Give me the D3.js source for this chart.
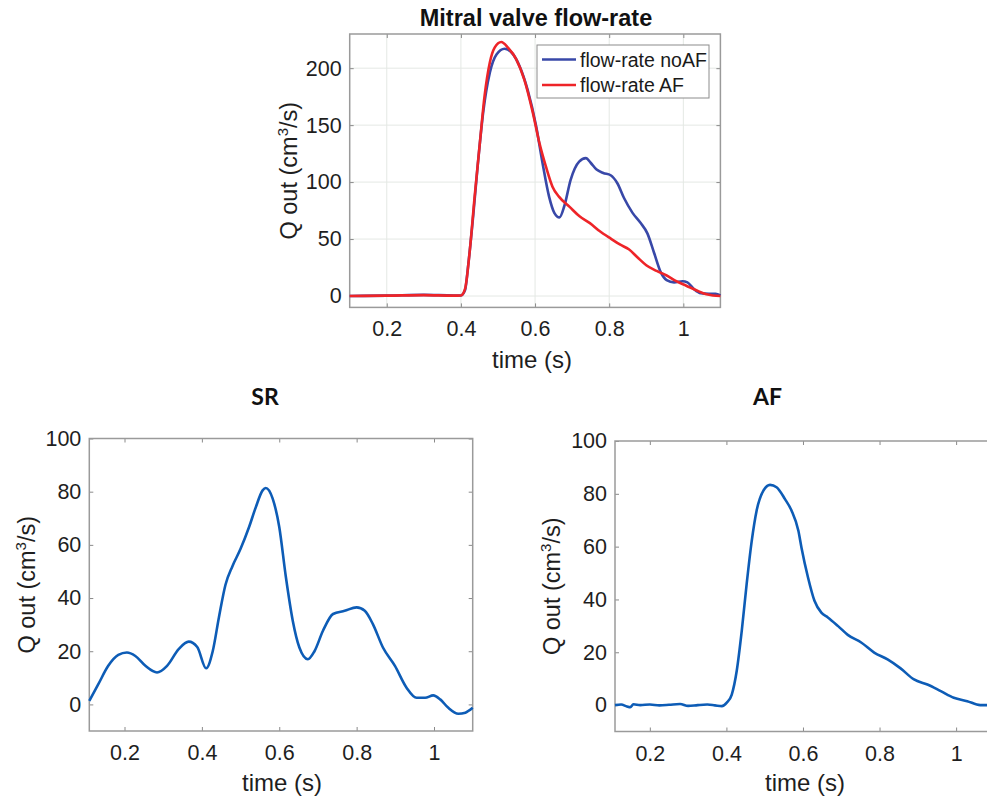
<!DOCTYPE html>
<html lang="en">
	<head>
		<meta charset="utf-8">
		<title>mitral valve flow-rate</title>
		<script type="text/javascript" src="https://d3js.org/d3.v7.min.js"></script>
		<style type="text/css">
            body{margin:0;background:#fff;font-family:"Liberation Sans",Arial,Helvetica,sans-serif;}
            svg{display:block;}
		</style>
	</head>
	<body>
    <div id="chart1"></div>
		<script type="text/javascript">
            //values

            //top plot, two series
            var topTimeNoAF = [0.1,0.2,0.3,0.38,0.4,0.411,0.42,0.433,0.446,0.46,0.478,0.496,0.518,0.536,0.558,0.58,0.603,0.62,0.638,0.652,0.666,0.679,0.696,0.719,0.737,0.75,0.766,0.784,0.804,0.822,0.84,0.863,0.885,0.903,0.921,0.939,0.955,0.975,0.998,1.011,1.029,1.047,1.069,1.087,1.1]
            var flowNoAF = [0,0.3,1,0.5,0.5,5,28,70,117,161,196,212,217,214,202,181,149,117,87,73,69,79,102,118,121,117,111,108,106,99,86,73,64,55,38,21,14,12,13,12,6,2.5,2,2,0.5]
            var topTimeAF = [0.1,0.2,0.3,0.38,0.4,0.411,0.424,0.437,0.451,0.464,0.478,0.491,0.509,0.527,0.549,0.571,0.594,0.612,0.629,0.647,0.665,0.694,0.72,0.748,0.774,0.806,0.83,0.853,0.876,0.9,0.928,0.955,0.981,1.008,1.035,1.062,1.08,1.1]
            var flowAF = [0,0.3,0.8,0.3,0.5,6,40,87,134,176,205,218,223,218,208,190,161,134,114,96,87,78,70,64,57,50,45,41,34,27,22,18,13,9,5,1.5,0.5,0]

            //bottom left (SR)
            var srTime = [0.109,0.132,0.158,0.184,0.206,0.228,0.254,0.284,0.31,0.34,0.366,0.388,0.411,0.428,0.444,0.461,0.479,0.5,0.522,0.539,0.557,0.565,0.583,0.6,0.617,0.635,0.652,0.674,0.691,0.713,0.739,0.769,0.8,0.821,0.842,0.868,0.899,0.929,0.955,0.977,0.998,1.016,1.037,1.063,1.081,1.1]
            var srFlow = [1.3,7.5,14.5,18.6,19.5,18.2,14.5,12,14.5,20.8,23.6,21.6,13.6,20,32.7,45,52,58.5,66.7,74,80.5,81.4,77.4,66.7,48,31.4,21.4,17,20,27.7,34,35.2,36.5,35.2,30.2,21.4,14.5,6.3,2.5,2.5,3.4,1.9,-1.3,-3.5,-3.1,-1.3]

            //bottom right (AF)
            var afTime = [0.109,0.125,0.14,0.149,0.157,0.175,0.2,0.225,0.25,0.279,0.3,0.325,0.35,0.37,0.388,0.401,0.414,0.427,0.44,0.453,0.466,0.479,0.497,0.514,0.531,0.553,0.57,0.588,0.596,0.613,0.63,0.648,0.665,0.691,0.717,0.752,0.786,0.821,0.855,0.89,0.925,0.96,0.994,1.029,1.063,1.1]
            var afFlow = [0,0.2,-0.5,-0.8,0.3,0,0.2,-0.1,0.1,0.4,-0.3,0,0.2,-0.1,-0.4,0.9,4,13,28,46,62,73.7,81.3,83.4,82.5,78,73.7,66,59.7,48.4,39.5,35,33.2,30,26.6,23.7,19.9,17.3,13.9,9.7,7.8,5.3,2.8,1.5,0,0]

            //tick labels
            var timeTicks = [0.2,0.4,0.6,0.8,1]
            var topFlowTicks = [0,50,100,150,200]
            var bottomFlowTicks = [0,20,40,60,80,100]

            var legendNames = ["flow-rate noAF","flow-rate AF"]

            var w = 987
            var h = 797
            var svg = d3.select("#chart1")
                        .append("svg")
                        .attr("width",w)
                        .attr("height",h)

            //turn two arrays into points
            function zip(xs,ys){
                return xs.map(function(x,i){ return {t:x, q:ys[i]} })
            }

            //draws one framed panel and returns its scales
            function drawPanel(p){
                var xScale = d3.scaleLinear().domain(p.xDomain).range([p.left,p.right])
                var yScale = d3.scaleLinear().domain(p.yDomain).range([p.bottom,p.top])
                var g = svg.append("g")
                var fmt = d3.format("~g")

                //grid
                if(p.grid){
                    g.selectAll(".vgrid").data(timeTicks).enter().append("line")
                        .attr("x1",function(d){ return xScale(d) }).attr("x2",function(d){ return xScale(d) })
                        .attr("y1",p.top).attr("y2",p.bottom)
                        .attr("stroke","#e4e8e4").attr("stroke-width",1)
                    g.selectAll(".hgrid").data(p.yTicks).enter().append("line")
                        .attr("y1",function(d){ return yScale(d) }).attr("y2",function(d){ return yScale(d) })
                        .attr("x1",p.left).attr("x2",p.right)
                        .attr("stroke","#e4e8e4").attr("stroke-width",1)
                }

                //axes with inward ticks on all four sides
                g.append("g").attr("transform","translate(0,"+p.bottom+")")
                    .call(d3.axisBottom(xScale).tickValues(timeTicks).tickFormat(fmt).tickSize(-4).tickPadding(p.xPad))
                g.append("g").attr("transform","translate("+p.left+",0)")
                    .call(d3.axisLeft(yScale).tickValues(p.yTicks).tickFormat(fmt).tickSize(-4).tickPadding(8))
                g.append("g").attr("transform","translate(0,"+p.top+")")
                    .call(d3.axisTop(xScale).tickValues(timeTicks).tickFormat("").tickSize(-4))
                g.append("g").attr("transform","translate("+p.right+",0)")
                    .call(d3.axisRight(yScale).tickValues(p.yTicks).tickFormat("").tickSize(-4))
                g.selectAll(".domain").remove()
                g.selectAll(".tick line").attr("stroke","#8a8a8a")
                g.selectAll(".tick text")
                    .attr("fill","#1e1e1e")
                    .attr("font-family","'Liberation Sans',Arial,sans-serif")
                    .attr("font-size",21.5)

                //the box
                g.append("rect")
                    .attr("x",p.left).attr("y",p.top)
                    .attr("width",p.right-p.left).attr("height",p.bottom-p.top)
                    .attr("fill","none").attr("stroke","#9a9a9a").attr("stroke-width",1.5)

                //lines
                var line = d3.line()
                    .x(function(d){ return xScale(d.t) })
                    .y(function(d){ return yScale(d.q) })
                    .curve(d3.curveMonotoneX)
                p.series.forEach(function(s){
                    g.append("path")
                        .datum(s.data)
                        .attr("d",line)
                        .attr("fill","none")
                        .attr("stroke",s.color)
                        .attr("stroke-width",2.6)
                        .attr("stroke-linejoin","round")
                })

                //title
                g.append("text")
                    .attr("x",p.titleX).attr("y",p.titleY)
                    .attr("text-anchor","middle")
                    .attr("font-family",p.titleFont)
                    .attr("font-weight","bold")
                    .attr("font-size",p.titleSize)
                    .attr("fill","#111")
                    .text(p.title)

                //x label
                g.append("text")
                    .attr("x",p.xLabelX).attr("y",p.xLabelY)
                    .attr("text-anchor","middle")
                    .attr("font-size",24)
                    .attr("fill","#1e1e1e")
                    .text("time (s)")

                //y label with the superscript 3
                var yl = g.append("text")
                    .attr("transform","translate("+p.yLabelX+","+((p.top+p.bottom)/2)+") rotate(-90)")
                    .attr("text-anchor","middle")
                    .attr("font-size",23.5)
                    .attr("fill","#1e1e1e")
                yl.append("tspan").text("Q out (cm")
                yl.append("tspan").attr("font-size",15).attr("dy",-9).text("3")
                yl.append("tspan").attr("dy",9).text("/s)")

                return {x:xScale, y:yScale, g:g}
            }

            //top panel
            var topPanel = drawPanel({
                left:349.7, right:720.4, top:34, bottom:307.4,
                xDomain:[0.1,1.1], yDomain:[-10,230],
                yTicks:topFlowTicks, grid:true, xPad:13,
                series:[
                    {data:zip(topTimeNoAF,flowNoAF), color:"#3848a8"},
                    {data:zip(topTimeAF,flowAF), color:"#ee2428"}
                ],
                title:"Mitral valve flow-rate", titleX:536, titleY:26, titleSize:23.5,
                titleFont:"'Liberation Sans',Arial,sans-serif",
                xLabelX:532, xLabelY:368, yLabelX:297
            })

            //legend
            var legendColors = ["#3848a8","#ee2428"]
            var lg = topPanel.g.append("g")
            lg.append("rect")
                .attr("x",537).attr("y",45).attr("width",172).attr("height",53)
                .attr("fill","#fff").attr("stroke","#8c8c8c").attr("stroke-width",1)
            legendNames.forEach(function(name,i){
                var ly = 59.5+i*25.5
                lg.append("line")
                    .attr("x1",542).attr("x2",576).attr("y1",ly).attr("y2",ly)
                    .attr("stroke",legendColors[i]).attr("stroke-width",2.6)
                lg.append("text")
                    .attr("x",580).attr("y",ly+7)
                    .attr("font-size",19.5).attr("fill","#1a1a1a")
                    .text(name)
            })

            //bottom left panel
            drawPanel({
                left:89.3, right:472.7, top:438.5, bottom:731,
                xDomain:[0.109,1.1], yDomain:[-10,100],
                yTicks:bottomFlowTicks, grid:false, xPad:14,
                series:[{data:zip(srTime,srFlow), color:"#0d5cb6"}],
                title:"SR", titleX:265, titleY:405, titleSize:23,
                titleFont:"Lato,'Open Sans',sans-serif",
                xLabelX:282, xLabelY:791, yLabelX:35
            })

            //bottom right panel, runs off the right edge like the picture
            drawPanel({
                left:615, right:994.4, top:441, bottom:731.5,
                xDomain:[0.109,1.1], yDomain:[-10,100],
                yTicks:bottomFlowTicks, grid:false, xPad:14,
                series:[{data:zip(afTime,afFlow), color:"#0d5cb6"}],
                title:"AF", titleX:767.5, titleY:405, titleSize:23,
                titleFont:"Lato,'Open Sans',sans-serif",
                xLabelX:805, xLabelY:791, yLabelX:560
            })
        </script>
	</body>
</html>
